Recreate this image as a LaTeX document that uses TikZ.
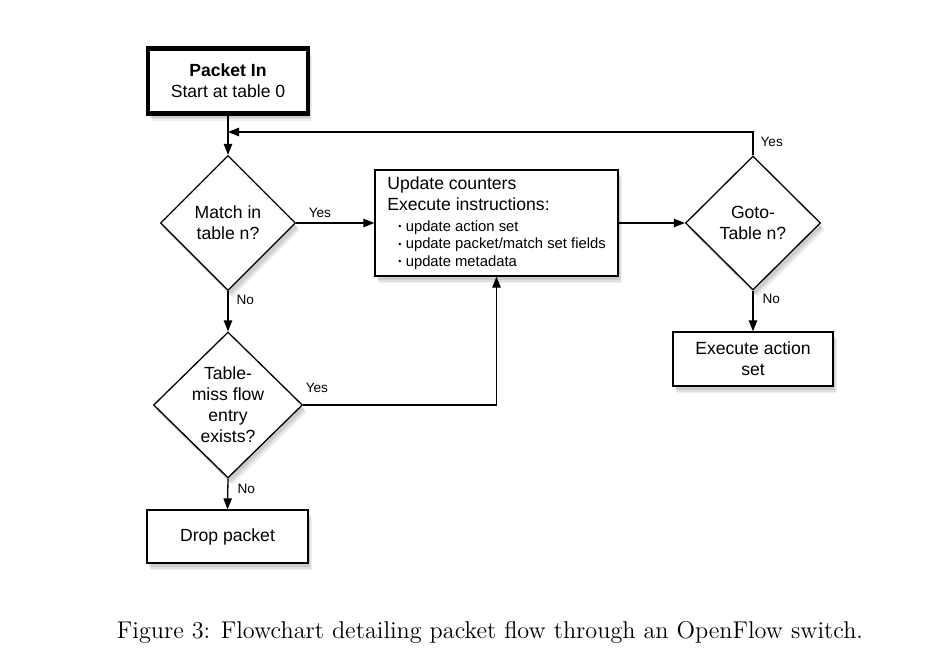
\documentclass[tikz,border=0pt]{standalone}
\usepackage{fontspec}
\usepackage{graphicx}
\newfontfamily\helv{Liberation Sans}
\usetikzlibrary{arrows.meta,shapes.geometric,shadows}
\newcommand{\boxfont}{\helv\fontsize{8.8}{10.5}\selectfont}
\newcommand{\itemfont}{\helv\fontsize{7.4}{8.3}\selectfont}
\newcommand{\answerfont}{\helv\fontsize{6.8}{8}\selectfont}
\newcommand{\bul}[1]{{\itemfont\hspace*{5.5pt}\raisebox{0.8pt}{\scalebox{0.6}{\textbullet}}\hspace{2.2pt}#1}}

\begin{document}
\begin{tikzpicture}[x=0.5pt,y=-0.5pt]
                \tikzstyle{every node}+=[inner sep=0pt]
                \tikzstyle{softshadow}=[drop shadow={shadow xshift=2.2pt,shadow yshift=-3.6pt,opacity=0.12},
                                        drop shadow={shadow xshift=1.6pt,shadow yshift=-2.8pt,opacity=0.15},
                                        drop shadow={shadow xshift=1pt,shadow yshift=-2pt,opacity=0.2}]
                \tikzstyle{box}=[draw,line width=0.65pt,fill=white,softshadow,align=center,font=\boxfont]
                \tikzstyle{decision}=[draw,diamond,line width=0.65pt,fill=white,softshadow]
                \tikzstyle{dtext}=[align=center,font=\boxfont]
                \tikzstyle{answer}=[font=\answerfont]
                \tikzstyle{flow}=[line width=0.65pt,-{Triangle[width=4.2pt,length=5.5pt]}]
                \useasboundingbox (0,0) rectangle (941,659);
                % boxes
                \node [box, line width=2.3pt, minimum width=80pt, minimum height=32.5pt] (packetin) at (228,81) {\textbf{Packet In}\\Start at table 0};
                \node [box, align=left, minimum width=121.5pt, minimum height=53pt] (update) at (496.5,223) {Update counters\\Execute instructions:\\\bul{update action set}\\[-1.8pt]\bul{update packet/match set fields}\\[-1.8pt]\bul{update metadata}};
                \node [box, minimum width=80pt, minimum height=27pt] (execset) at (753,359) {Execute action\\set};
                \node [box, minimum width=80.5pt, minimum height=26.5pt] (drop) at (227.5,536.5) {Drop packet};
                % decisions
                \node [decision, minimum width=67.5pt, minimum height=67.5pt] (match) at (228,223) {};
                \node [dtext] (matchtext) at (match) {Match in\\table n?};
                \node [decision, minimum width=67.5pt, minimum height=67pt] (goto) at (753,223) {};
                \node [dtext] (gototext) at (goto) {Goto-\\Table n?};
                \node [decision, minimum width=74.5pt, minimum height=73pt] (miss) at (228,405) {};
                \node [dtext] (misstext) at (miss) {Table-\\miss flow\\entry\\exists?};
                \coordinate (loop) at (228,132);
                % connectors
                \draw [flow] (packetin.south) -- (match.north);
                \draw [flow] (goto.north) |- node [answer, pos=0, anchor=base west, xshift=3.5pt, yshift=4.5pt] {Yes} (loop);
                \draw [flow] (match.east) -- node [answer, pos=0, anchor=base west, xshift=6pt, yshift=3pt] {Yes} (update.west);
                \draw [flow] (match.south) -- node [answer, pos=0, anchor=north west, xshift=4pt, yshift=-1.5pt] {No} (miss.north);
                \draw [flow] (update.east) -- (goto.west);
                \draw [flow] (goto.south) -- node [answer, pos=0, anchor=north west, xshift=4.5pt, yshift=-1.5pt] {No} (execset.north);
                \draw [flow] (miss.east) -| node [answer, pos=0, anchor=base west, xshift=1pt, yshift=6.5pt] {Yes} (update.south);
                \draw [flow] (miss.south) -- node [answer, pos=0, anchor=north west, xshift=4.5pt, yshift=-2.5pt] {No} (drop.north);
                % caption
                \node [font=\fontsize{12.13}{14}\selectfont, anchor=base] (caption) at (490,638) {Figure 3: Flowchart detailing packet flow through an OpenFlow switch.};
\end{tikzpicture}
\end{document}
